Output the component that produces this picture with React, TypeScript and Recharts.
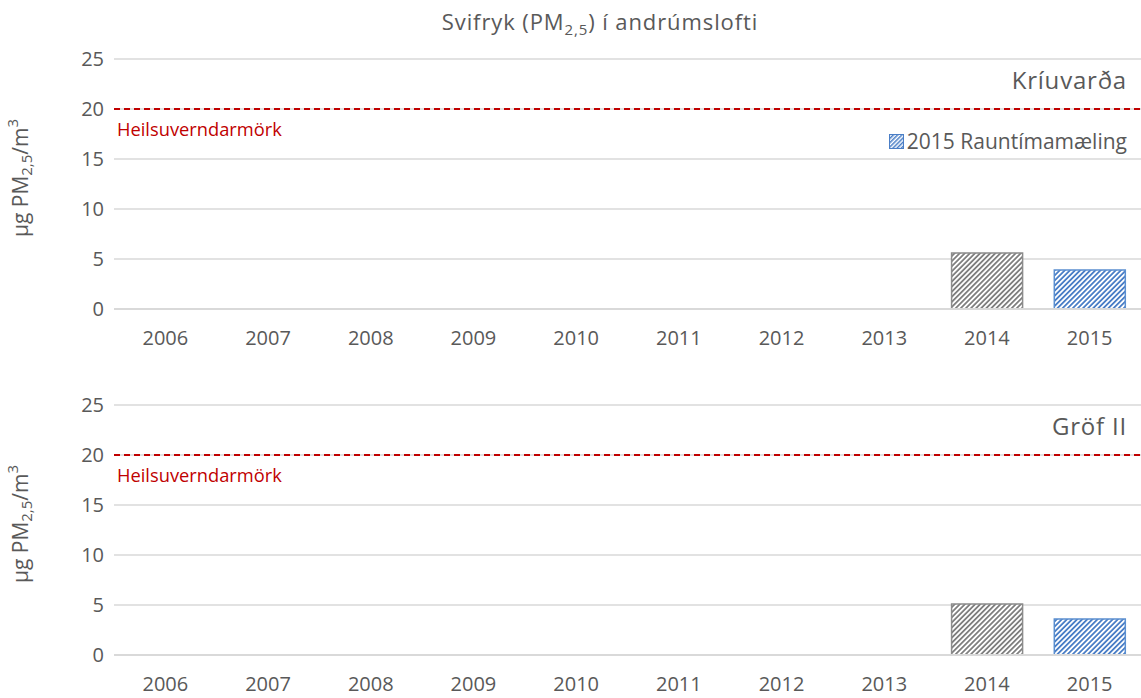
import React from 'react';
import { BarChart, Bar, XAxis, YAxis, CartesianGrid, ReferenceLine, Cell, Label } from 'recharts';

const years = ['2006', '2007', '2008', '2009', '2010', '2011', '2012', '2013', '2014', '2015'];
const kriuvardaValues: (number | null)[] = [null, null, null, null, null, null, null, null, 5.6, 3.9];
const grofValues: (number | null)[] = [null, null, null, null, null, null, null, null, 5.1, 3.6];
const yTicks = [0, 5, 10, 15, 20, 25];
const limitValue = 20;
const limitLabel = 'Heilsuverndarmörk';
const stations = ['Kríuvarða', 'Gröf II'];
const legendLabel = '2015 Rauntímamæling';

const FONT = '"Open Sans", Lato, sans-serif';
const GRAY = '#595959';

const buildData = (vals: (number | null)[]) => years.map((y, i) => ({ year: y, value: vals[i] }));

const Patterns = ({ prefix }: { prefix: string }) => (
  <defs>
    <pattern id={`${prefix}-gray`} width="3.6" height="3.6" patternUnits="userSpaceOnUse" patternTransform="rotate(45)">
      <rect width="3.6" height="3.6" fill="#ffffff" />
      <rect width="1.8" height="3.6" fill="#7f7f7f" />
    </pattern>
    <pattern id={`${prefix}-blue`} width="3.6" height="3.6" patternUnits="userSpaceOnUse" patternTransform="rotate(45)">
      <rect width="3.6" height="3.6" fill="#ffffff" />
      <rect width="1.8" height="3.6" fill="#4a7ec6" />
    </pattern>
  </defs>
);

const YLabel = (props: any) => {
  const vb = props.viewBox || {};
  const cy = (vb.y || 0) + (vb.height || 0) / 2 - 6;
  const cx = 20;
  return (
    <text
      x={cx}
      y={cy}
      transform={`rotate(-90, ${cx}, ${cy})`}
      textAnchor="middle"
      dominantBaseline="central"
      fill={GRAY}
      fontFamily={FONT}
      fontSize={21}
    >
      <tspan>μg PM</tspan>
      <tspan fontSize={15} dy={6}>2,5</tspan>
      <tspan dy={-6}>/m</tspan>
      <tspan fontSize={15} dy={-8}>3</tspan>
    </text>
  );
};

const LimitLabel = (props: any) => {
  const vb = props.viewBox || {};
  return (
    <text x={(vb.x || 0) + 3} y={(vb.y || 0) + 19} fill="#c00000" fontFamily={FONT} fontSize={18.3} dominantBaseline="central">
      {limitLabel}
    </text>
  );
};

const Panel = ({ vals, prefix, station, top, showLegend }: { vals: (number | null)[]; prefix: string; station: string; top: number; showLegend: boolean }) => {
  const data = buildData(vals);
  return (
    <div style={{ position: 'absolute', left: 0, top, width: 1141, height: 350 }}>
      <BarChart width={1141} height={350} data={data} margin={{ top: 59, right: 0, bottom: 0, left: 0 }} barSize={71}>
        <Patterns prefix={prefix} />
        <CartesianGrid horizontal vertical={false} stroke="#d9d9d9" strokeWidth={1.5} />
        <XAxis
          dataKey="year"
          height={41}
          tickLine={false}
          tickSize={0}
          tickMargin={22}
          axisLine={{ stroke: '#d9d9d9', strokeWidth: 2 }}
          tick={{ fill: GRAY, fontSize: 20, fontFamily: FONT }}
          interval={0}
        />
        <YAxis
          width={114}
          domain={[0, 25]}
          ticks={yTicks}
          axisLine={false}
          tickLine={false}
          tickSize={0}
          tickMargin={10}
          tick={{ fill: GRAY, fontSize: 20, fontFamily: FONT }}
        >
          <Label content={YLabel} />
        </YAxis>
        <ReferenceLine y={limitValue} stroke="#c00000" strokeWidth={2} strokeDasharray="6 4" ifOverflow="extendDomain">
          <Label content={LimitLabel} />
        </ReferenceLine>
        <Bar dataKey="value" isAnimationActive={false}>
          {data.map((d) => (
            <Cell
              key={d.year}
              fill={d.year === '2015' ? `url(#${prefix}-blue)` : `url(#${prefix}-gray)`}
              stroke={d.year === '2015' ? '#5b8fd0' : '#8c8c8c'}
              strokeWidth={1.5}
            />
          ))}
        </Bar>
      </BarChart>
      <div
        style={{
          position: 'absolute',
          right: 14,
          top: 64,
          fontFamily: FONT,
          fontSize: 24,
          letterSpacing: 0.8,
          color: GRAY,
          lineHeight: '32px',
        }}
      >
        {station}
      </div>
      {showLegend && (
        <div
          style={{
            position: 'absolute',
            right: 14,
            top: 126,
            fontFamily: FONT,
            fontSize: 21,
            color: GRAY,
            lineHeight: '30px',
            display: 'flex',
            alignItems: 'center',
          }}
        >
          <svg width={15} height={15} style={{ marginRight: 3 }}>
            <defs>
              <pattern id="legend-blue" width="3" height="3" patternUnits="userSpaceOnUse" patternTransform="rotate(45)">
                <rect width="3" height="3" fill="#ffffff" />
                <rect width="1.5" height="3" fill="#4a7ec6" />
              </pattern>
            </defs>
            <rect x={0.5} y={0.5} width={14} height={14} fill="url(#legend-blue)" stroke="#4a7ec6" />
          </svg>
          <span>{legendLabel}</span>
        </div>
      )}
    </div>
  );
};

export default function App() {
  return (
    <div style={{ position: 'absolute', left: 0, top: 0, width: 1141, height: 698, background: '#ffffff', overflow: 'hidden' }}>
      <div
        style={{
          position: 'absolute',
          left: 0,
          width: 1200,
          top: 6,
          textAlign: 'center',
          fontFamily: FONT,
          fontSize: 22,
          letterSpacing: 0.9,
          color: GRAY,
          lineHeight: '30px',
        }}
      >
        Svifryk (PM<sub style={{ fontSize: 15, lineHeight: 0 }}>2,5</sub>) í andrúmslofti
      </div>
      <Panel vals={kriuvardaValues} prefix="k" station={stations[0]} top={0} showLegend />
      <Panel vals={grofValues} prefix="g" station={stations[1]} top={346} showLegend={false} />
    </div>
  );
}
